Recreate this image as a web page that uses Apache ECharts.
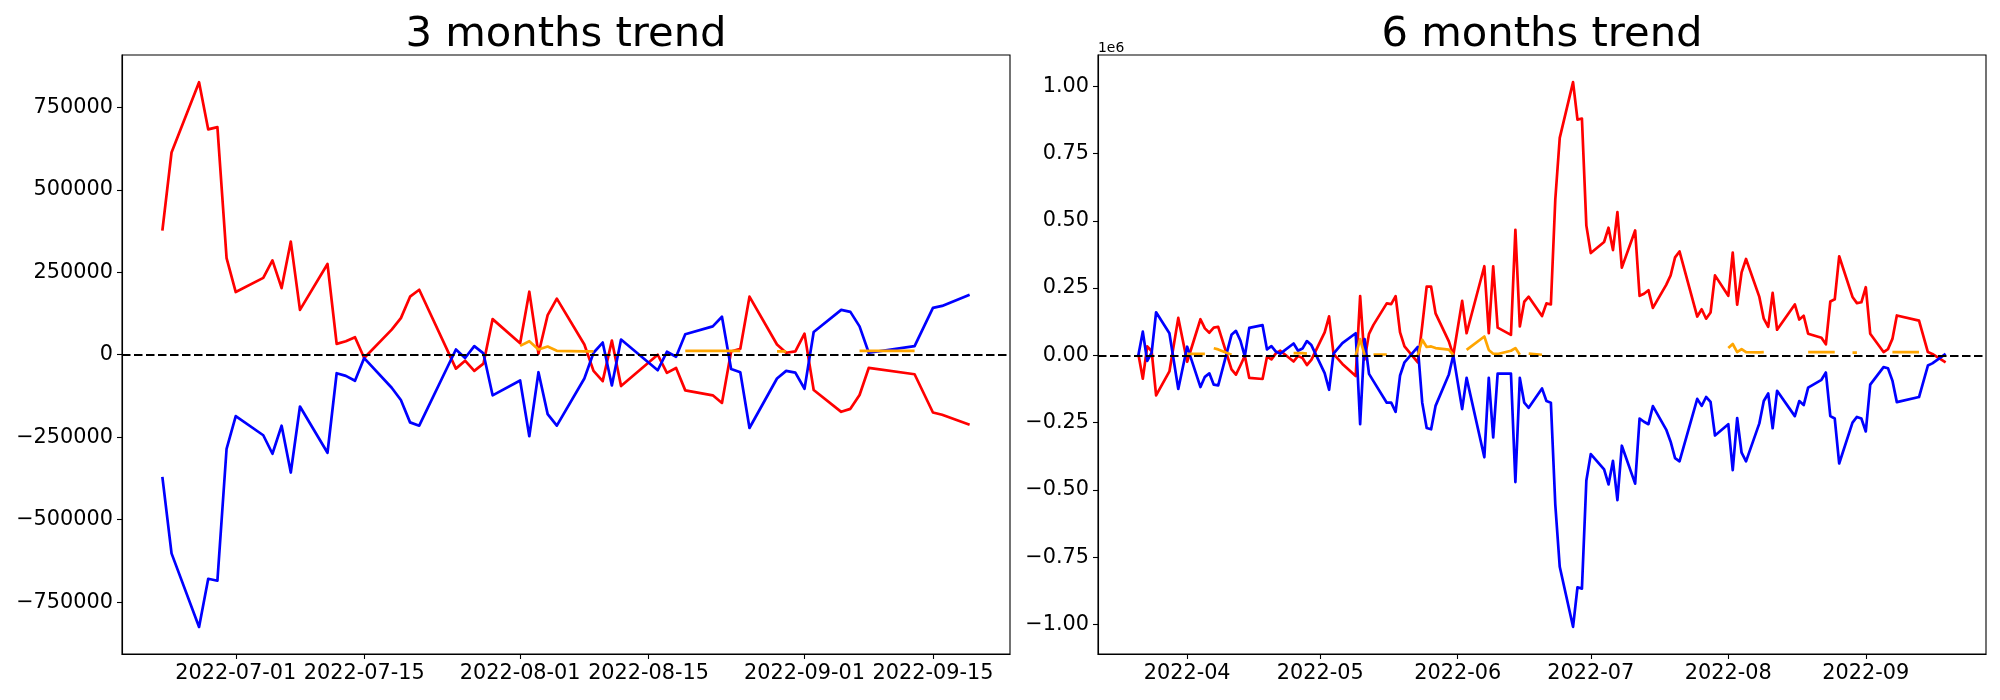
<!DOCTYPE html>
<html>
<head>
<meta charset="utf-8">
<script src="https://cdn.jsdelivr.net/npm/echarts@6/dist/echarts.min.js"></script>
<style>
  html, body { margin: 0; padding: 0; background: #fff; }
  #chart { width: 2000px; height: 700px; }
</style>
</head>
<body>
<div id="chart"></div>
<script>
// ---------------- 3 months panel ----------------
const dates3 = ['2022-06-23','2022-06-24','2022-06-27','2022-06-28','2022-06-29','2022-06-30','2022-07-01',
  '2022-07-04','2022-07-05','2022-07-06','2022-07-07','2022-07-08','2022-07-11','2022-07-12','2022-07-13',
  '2022-07-14','2022-07-15','2022-07-18','2022-07-19','2022-07-20','2022-07-21','2022-07-25','2022-07-26',
  '2022-07-27','2022-07-28','2022-07-29','2022-08-01','2022-08-02','2022-08-03','2022-08-04','2022-08-05',
  '2022-08-08','2022-08-09','2022-08-10','2022-08-11','2022-08-12','2022-08-16','2022-08-17','2022-08-18',
  '2022-08-19','2022-08-22','2022-08-23','2022-08-24','2022-08-25','2022-08-26','2022-08-29','2022-08-30',
  '2022-08-31','2022-09-01','2022-09-02','2022-09-05','2022-09-06','2022-09-07','2022-09-08','2022-09-13',
  '2022-09-15','2022-09-16','2022-09-19'];
const red3 = [376000,613000,826000,683000,690000,293000,190000,
  233000,286000,202000,343000,136000,275000,33000,41000,
  53000,-10000,76000,111000,176000,197000,-42000,-18000,
  -49000,-27000,108000,35000,191000,3000,120000,170000,
  31000,-49000,-80000,43000,-95000,0,-55000,-40000,
  -108000,-123000,-146000,10000,18000,176000,31000,6000,
  10000,64000,-107000,-173000,-164000,-122000,-40000,-59000,
  -175000,-182000,-212000];
const blue3 = [-370000,-602000,-825000,-679000,-685000,-285000,-186000,
  -244000,-300000,-215000,-357000,-157000,-297000,-56000,-64000,
  -79000,-10000,-100000,-137000,-205000,-215000,16000,-10000,
  26000,4000,-123000,-78000,-247000,-53000,-180000,-215000,
  -72000,6000,37000,-93000,46000,-47000,9000,-6000,
  62000,86000,115000,-43000,-53000,-222000,-72000,-49000,
  -54000,-103000,69000,136000,130000,86000,6000,26000,
  142000,148000,182000];
const orange3 = [null,null,null,null,null,null,null,
  null,null,null,null,null,null,null,null,
  null,null,null,null,null,null,null,null,
  null,null,null,27000,41000,16000,25000,12000,
  10000,10000,null,null,null,null,null,null,
  12000,12000,12000,12000,12000,null,10000,10000,
  null,null,null,null,null,12000,12000,12000,
  null,null,null];
const xTicks3 = ['2022-07-01','2022-07-15','2022-08-01','2022-08-15','2022-09-01','2022-09-15'];
const yTicks3 = [-750000,-500000,-250000,0,250000,500000,750000];

// ---------------- 6 months panel (values in units of 1e6) ----------------
const dates6 = ['2022-03-21','2022-03-22','2022-03-23','2022-03-24','2022-03-25','2022-03-28','2022-03-30',
  '2022-04-01','2022-04-04','2022-04-05','2022-04-06','2022-04-07','2022-04-08','2022-04-11','2022-04-12',
  '2022-04-13','2022-04-14','2022-04-15','2022-04-18','2022-04-19','2022-04-20','2022-04-21','2022-04-22',
  '2022-04-25','2022-04-26','2022-04-27','2022-04-28','2022-04-29','2022-05-02','2022-05-03','2022-05-04',
  '2022-05-06','2022-05-09','2022-05-10','2022-05-11','2022-05-12','2022-05-13','2022-05-16','2022-05-17',
  '2022-05-18','2022-05-19','2022-05-20','2022-05-23','2022-05-24','2022-05-25','2022-05-26','2022-05-27',
  '2022-05-30','2022-05-31','2022-06-02','2022-06-03','2022-06-07','2022-06-08','2022-06-09','2022-06-10',
  '2022-06-13','2022-06-14','2022-06-15','2022-06-16','2022-06-17','2022-06-20','2022-06-21','2022-06-22',
  '2022-06-23','2022-06-24','2022-06-27','2022-06-28','2022-06-29','2022-06-30','2022-07-01',
  '2022-07-04','2022-07-05','2022-07-06','2022-07-07','2022-07-08','2022-07-11','2022-07-12','2022-07-13',
  '2022-07-14','2022-07-15','2022-07-18','2022-07-19','2022-07-20','2022-07-21','2022-07-25','2022-07-26',
  '2022-07-27','2022-07-28','2022-07-29','2022-08-01','2022-08-02','2022-08-03','2022-08-04','2022-08-05',
  '2022-08-08','2022-08-09','2022-08-10','2022-08-11','2022-08-12','2022-08-16','2022-08-17','2022-08-18',
  '2022-08-19','2022-08-22','2022-08-23','2022-08-24','2022-08-25','2022-08-26','2022-08-29','2022-08-30',
  '2022-08-31','2022-09-01','2022-09-02','2022-09-05','2022-09-06','2022-09-07','2022-09-08','2022-09-13',
  '2022-09-15','2022-09-16','2022-09-19'];
const red6 = [0.005,-0.087,0.033,0.015,-0.149,-0.06,0.139,
  -0.024,0.134,0.1,0.084,0.103,0.106,-0.052,-0.072,
  -0.038,-0.002,-0.084,-0.088,-0.005,-0.015,0.007,0.017,
  -0.023,-0.002,-0.01,-0.036,-0.017,0.085,0.145,0.005,
  -0.032,-0.077,0.22,-0.016,0.08,0.113,0.193,0.19,
  0.22,0.085,0.033,-0.026,0.11,0.255,0.255,0.156,
  0.052,0.0,0.202,0.082,0.331,0.082,0.331,0.103,
  0.076,0.466,0.107,0.199,0.218,0.146,0.193,0.189,
  0.58,0.808,1.015,0.876,0.88,0.482,0.38,
  0.421,0.474,0.391,0.532,0.326,0.464,0.221,0.229,
  0.242,0.176,0.262,0.297,0.364,0.386,0.144,0.171,
  0.136,0.159,0.297,0.221,0.382,0.188,0.308,0.358,
  0.217,0.136,0.106,0.232,0.095,0.189,0.133,0.147,
  0.08,0.065,0.041,0.2,0.208,0.368,0.217,0.194,
  0.197,0.253,0.08,0.012,0.023,0.061,0.148,0.129,
  0.012,0.005,-0.026];
const blue6 = [0.0,0.088,-0.021,0.01,0.16,0.082,-0.125,
  0.032,-0.118,-0.08,-0.067,-0.109,-0.112,0.076,0.091,
  0.055,-0.004,0.102,0.112,0.022,0.034,0.014,0.006,
  0.044,0.017,0.025,0.053,0.038,-0.066,-0.128,0.006,
  0.045,0.082,-0.256,0.06,-0.069,-0.096,-0.176,-0.176,
  -0.21,-0.075,-0.026,0.031,-0.176,-0.27,-0.275,-0.188,
  -0.071,0.0,-0.2,-0.084,-0.379,-0.084,-0.305,-0.068,
  -0.068,-0.471,-0.084,-0.176,-0.195,-0.123,-0.17,-0.176,
  -0.556,-0.786,-1.009,-0.862,-0.867,-0.465,-0.367,
  -0.424,-0.48,-0.392,-0.538,-0.336,-0.477,-0.235,-0.247,
  -0.256,-0.189,-0.276,-0.321,-0.382,-0.394,-0.162,-0.188,
  -0.155,-0.173,-0.298,-0.256,-0.427,-0.233,-0.362,-0.394,
  -0.253,-0.17,-0.142,-0.271,-0.132,-0.226,-0.17,-0.185,
  -0.12,-0.091,-0.064,-0.226,-0.235,-0.402,-0.25,-0.229,
  -0.235,-0.283,-0.109,-0.044,-0.048,-0.094,-0.174,-0.155,
  -0.038,-0.03,0.005];
const orange6 = [null,null,null,null,null,null,null,
  0.005,0.005,0.005,null,0.026,0.022,0.002,null,
  null,null,null,null,null,null,null,null,
  0.008,0.008,0.008,0.006,null,null,null,null,
  null,0.0,0.06,0.002,null,0.003,0.003,null,
  null,null,null,0.0,0.058,0.031,0.033,0.027,
  0.021,0.002,null,0.02,0.07,0.02,0.006,0.005,
  0.017,0.027,0.002,null,0.006,0.002,null,null,
  null,null,null,null,null,null,null,
  null,null,null,null,null,null,null,null,
  null,null,null,null,null,null,null,null,
  null,null,null,0.027,0.042,0.012,0.023,0.012,
  0.011,0.012,null,null,null,null,null,null,
  0.012,0.012,0.012,0.012,0.012,null,0.01,0.01,
  null,null,null,null,null,0.012,0.012,0.012,
  null,null,null];
const xTicks6 = ['2022-04-01','2022-05-01','2022-06-01','2022-07-01','2022-08-01','2022-09-01'];
const yTicks6 = [-1.0,-0.75,-0.5,-0.25,0,0.25,0.5,0.75,1.0];

// ---------------- build ----------------
const ts = s => Date.parse(s + 'T00:00:00Z');
const pairs = (d, v) => d.map((s, i) => [ts(s), v[i] == null ? null : v[i]]);
const minus = s => s.replace('-', '\u2212');
const FONT = 'DejaVu Sans';

function xRange(d) {
  const a = ts(d[0]), b = ts(d[d.length - 1]);
  const m = (b - a) * 0.05;
  return [a - m, b + m];
}
const xr3 = xRange(dates3), xr6 = xRange(dates6);

function xAxisCfg(idx, range, ticks, fmt) {
  return {
    type: 'value', gridIndex: idx, min: range[0], max: range[1],
    splitLine: { show: false },
    axisLine: { show: true, onZero: false, lineStyle: { color: '#000', width: 1.1 } },
    axisTick: { show: true, inside: false, length: 5, customValues: ticks.map(ts), lineStyle: { color: '#000', width: 1.1 } },
    axisLabel: {
      customValues: ticks.map(ts), color: '#000', fontFamily: FONT, fontSize: 20.8, margin: 9,
      hideOverlap: false,
      formatter: v => fmt(new Date(v).toISOString())
    }
  };
}
function yAxisCfg(idx, min, max, ticks, fmt) {
  return {
    type: 'value', gridIndex: idx, min: min, max: max,
    splitLine: { show: false },
    axisLine: { show: true, onZero: false, lineStyle: { color: '#000', width: 1.1 } },
    axisTick: { show: true, inside: false, length: 5, customValues: ticks, lineStyle: { color: '#000', width: 1.1 } },
    axisLabel: {
      customValues: ticks, color: '#000', fontFamily: FONT, fontSize: 20.8, margin: 9,
      hideOverlap: false, formatter: v => minus(fmt(v))
    }
  };
}
function lineSeries(idx, data, color, z) {
  return {
    type: 'line', xAxisIndex: idx, yAxisIndex: idx, data: data,
    showSymbol: false, symbol: 'none', connectNulls: false, z: z,
    lineStyle: { color: color, width: 2.7, join: 'round', cap: 'butt' }, itemStyle: { color: color },
    emphasis: { disabled: true }, animation: false
  };
}
function zeroLine(idx) {
  return {
    type: 'line', xAxisIndex: idx, yAxisIndex: idx, data: [], z: 10, animation: false,
    markLine: {
      silent: true, symbol: ['none', 'none'], animation: false,
      label: { show: false },
      lineStyle: { color: '#000', width: 2.1, type: [8.5, 3.5] },
      data: [{ yAxis: 0 }]
    }
  };
}

const chart = echarts.init(document.getElementById('chart'), null, { renderer: 'canvas' });
chart.setOption({
  backgroundColor: '#fff',
  animation: false,
  grid: [
    { left: 122, top: 55, width: 888, height: 599, show: true, borderColor: '#000', borderWidth: 1.1, backgroundColor: 'transparent' },
    { left: 1098, top: 55, width: 888, height: 599, show: true, borderColor: '#000', borderWidth: 1.1, backgroundColor: 'transparent' }
  ],
  xAxis: [
    xAxisCfg(0, xr3, xTicks3, s => s.slice(0, 10)),
    xAxisCfg(1, xr6, xTicks6, s => s.slice(0, 7))
  ],
  yAxis: [
    yAxisCfg(0, -907000, 908500, yTicks3, v => String(Math.round(v))),
    yAxisCfg(1, -1.11, 1.116, yTicks6, v => Number(v).toFixed(2))
  ],
  graphic: [
    { type: 'text', x: 566, y: 35, style: { text: '3 months trend', font: '41.7px "DejaVu Sans"', fill: '#000', align: 'center', verticalAlign: 'middle' } },
    { type: 'text', x: 1542, y: 35, style: { text: '6 months trend', font: '41.7px "DejaVu Sans"', fill: '#000', align: 'center', verticalAlign: 'middle' } },
    { type: 'text', x: 1098, y: 48, style: { text: '1e6', font: '13.9px "DejaVu Sans"', fill: '#000', align: 'left', verticalAlign: 'middle' } }
  ],
  series: [
    lineSeries(0, pairs(dates3, red3), '#ff0000', 2),
    lineSeries(0, pairs(dates3, blue3), '#0000ff', 3),
    lineSeries(0, pairs(dates3, orange3), '#ffa500', 4),
    zeroLine(0),
    lineSeries(1, pairs(dates6, red6), '#ff0000', 2),
    lineSeries(1, pairs(dates6, blue6), '#0000ff', 3),
    lineSeries(1, pairs(dates6, orange6), '#ffa500', 4),
    zeroLine(1)
  ]
});
</script>
</body>
</html>
